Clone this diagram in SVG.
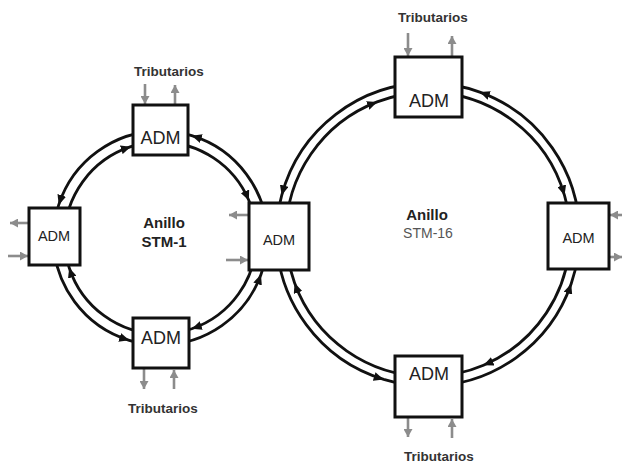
<svg xmlns="http://www.w3.org/2000/svg" width="622" height="466" viewBox="0 0 622 466">
  <defs>
    <marker id="ah" markerUnits="userSpaceOnUse" markerWidth="11" markerHeight="9" refX="10" refY="4.5" orient="auto">
      <path d="M0,0 L10,4.5 L0,9 z" fill="#111"/>
    </marker>
    <marker id="gh" markerUnits="userSpaceOnUse" markerWidth="9" markerHeight="9" refX="8" refY="4.5" orient="auto">
      <path d="M0,0 L8,4.5 L0,9 z" fill="#8c8c8c"/>
    </marker>
  </defs>
  <style>
    .ring { fill: none; stroke: #111; stroke-width: 2.8; marker-end: url(#ah); }
    .trib { fill: none; stroke: #8c8c8c; stroke-width: 2.6; marker-end: url(#gh); }
    .box { fill: #fff; stroke: #111; stroke-width: 3; }
    .adm { font-family: "Liberation Sans", Arial, sans-serif; fill: #222; text-anchor: middle; }
    .big { font-size: 18px; }
    .small { font-size: 14.5px; }
    .lbl { font-family: "Liberation Sans", Arial, sans-serif; font-weight: bold; fill: #333; text-anchor: middle; font-size: 13.5px; }
    .ring-name { font-family: "Liberation Sans", Arial, sans-serif; font-weight: bold; fill: #222; text-anchor: middle; font-size: 15px; }
    .ring-sub { font-family: "Liberation Sans", Arial, sans-serif; fill: #555; text-anchor: middle; font-size: 14px; }
  </style>

  <g id="connectors">
    <!-- STM-1 ring: outer line counter-clockwise, inner line clockwise -->
    <path class="ring" d="M58.7 204.9 A107 107 0 0 0 53.5 238 M160.5 131 A107 107 0 0 0 58.7 204.9"/>
    <path class="ring" d="M191.8 135.7 A107 107 0 0 0 160.5 131 M267.5 238 A107 107 0 0 0 191.8 135.7"/>
    <path class="ring" d="M129.2 340.3 A107 107 0 0 0 160.5 345 M53.5 238 A107 107 0 0 0 129.2 340.3"/>
    <path class="ring" d="M261 274.6 A107 107 0 0 0 267.5 238 M160.5 345 A107 107 0 0 0 261 274.6"/>
    <path class="ring" d="M130.8 146.7 A96 96 0 0 1 160.5 142 M64.5 238 A96 96 0 0 1 130.8 146.7"/>
    <path class="ring" d="M248.9 200.5 A96 96 0 0 1 256.5 238 M160.5 142 A96 96 0 0 1 248.9 200.5"/>
    <path class="ring" d="M191.8 328.8 A96 96 0 0 1 160.5 334 M256.5 238 A96 96 0 0 1 191.8 328.8"/>
    <path class="ring" d="M69.2 267.7 A96 96 0 0 1 64.5 238 M160.5 334 A96 96 0 0 1 69.2 267.7"/>

    <!-- STM-16 ring -->
    <path class="ring" d="M281.7 195.3 A151.5 151.5 0 0 0 276.5 234.5 M428 83 A151.5 151.5 0 0 0 281.7 195.3"/>
    <path class="ring" d="M479.8 92.1 A151.5 151.5 0 0 0 428 83 M579.5 234.5 A151.5 151.5 0 0 0 479.8 92.1"/>
    <path class="ring" d="M383.7 379.4 A151.5 151.5 0 0 0 428 386 M276.5 234.5 A151.5 151.5 0 0 0 383.7 379.4"/>
    <path class="ring" d="M571.2 283.8 A151.5 151.5 0 0 0 579.5 234.5 M428 386 A151.5 151.5 0 0 0 571.2 283.8"/>
    <path class="ring" d="M377.1 101.9 A142 142 0 0 1 428 92.5 M286 234.5 A142 142 0 0 1 377.1 101.9"/>
    <path class="ring" d="M564.5 195.4 A142 142 0 0 1 570 234.5 M428 92.5 A142 142 0 0 1 564.5 195.4"/>
    <path class="ring" d="M483.5 365.2 A142 142 0 0 1 428 376.5 M570 234.5 A142 142 0 0 1 483.5 365.2"/>
    <path class="ring" d="M294.6 283.1 A142 142 0 0 1 286 234.5 M428 376.5 A142 142 0 0 1 294.6 283.1"/>

    <!-- tributary add/drop arrows -->
    <path class="trib" d="M145 84 V104"/>
    <path class="trib" d="M175 104 V85"/>
    <path class="trib" d="M144 369 V389"/>
    <path class="trib" d="M174 389 V370"/>
    <path class="trib" d="M29 223 H10"/>
    <path class="trib" d="M8 256 H28"/>
    <path class="trib" d="M248 215 H229"/>
    <path class="trib" d="M226 260 H248"/>
    <path class="trib" d="M408 33 V56"/>
    <path class="trib" d="M452 56 V36"/>
    <path class="trib" d="M408 418 V437"/>
    <path class="trib" d="M452 438 V419"/>
    <path class="trib" d="M624 215 H610"/>
    <path class="trib" d="M610 257 H622"/>
  </g>

  <g id="adm-stm1-top">
    <rect class="box" x="133" y="105" width="55" height="50"/>
    <text class="adm big" x="160.5" y="143.5">ADM</text>
  </g>
  <g id="adm-stm1-left">
    <rect class="box" x="29" y="208" width="51" height="57"/>
    <text class="adm small" x="54" y="240.5">ADM</text>
  </g>
  <g id="adm-stm1-bottom">
    <rect class="box" x="133" y="318" width="56" height="50"/>
    <text class="adm big" x="161" y="344">ADM</text>
  </g>
  <g id="adm-shared">
    <rect class="box" x="249" y="203" width="60" height="67"/>
    <text class="adm small" x="279" y="245">ADM</text>
  </g>
  <g id="adm-stm16-top">
    <rect class="box" x="395" y="57" width="67" height="60"/>
    <text class="adm big" x="429" y="106.5">ADM</text>
  </g>
  <g id="adm-stm16-right">
    <rect class="box" x="548" y="203" width="61" height="66"/>
    <text class="adm small" x="578.5" y="243">ADM</text>
  </g>
  <g id="adm-stm16-bottom">
    <rect class="box" x="395" y="356" width="67" height="61"/>
    <text class="adm big" x="429" y="380">ADM</text>
  </g>

  <g id="labels">
    <text class="lbl" x="169" y="76">Tributarios</text>
    <text class="lbl" x="163" y="413">Tributarios</text>
    <text class="lbl" x="433" y="22">Tributarios</text>
    <text class="lbl" x="439" y="461">Tributarios</text>
    <text class="ring-name" x="164" y="228">Anillo</text>
    <text class="ring-name" x="164" y="247">STM-1</text>
    <text class="ring-name" x="427" y="220">Anillo</text>
    <text class="ring-sub" x="428" y="238">STM-16</text>
  </g>
</svg>
